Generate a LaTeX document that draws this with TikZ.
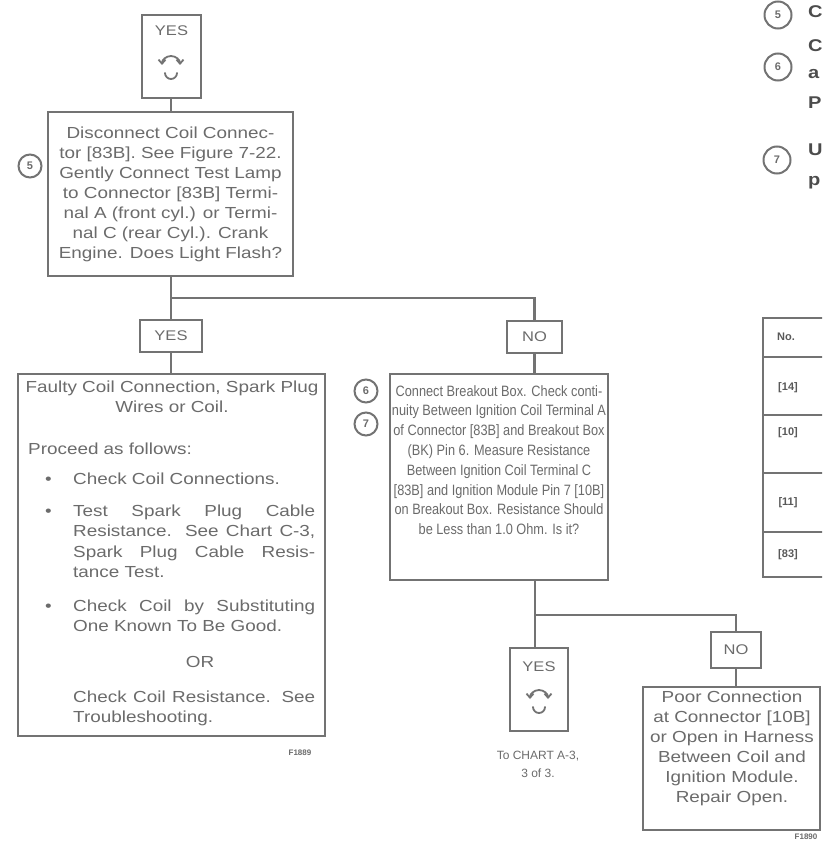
\documentclass[tikz,border=0pt]{standalone}
\usepackage{fontspec}
\setmainfont{Liberation Sans}
\newfontfamily\widesans{Liberation Sans}[FakeStretch=1.18]
\newfontfamily\narrowsans{Liberation Sans}[FakeStretch=0.85]
\usetikzlibrary{arrows.meta}
\definecolor{linegray}{gray}{0.45}
\definecolor{textgray}{gray}{0.42}
\tikzset{
  ln/.style={draw=linegray, line width=2.4pt},
  box/.style={draw=linegray, line width=2.8pt, fill=white, inner sep=0pt, rectangle},
  txt/.style={text=textgray, inner sep=0pt, font=\widesans\fontsize{16}{20}\selectfont},
  ntxt/.style={text=textgray, inner sep=0pt, font=\narrowsans\fontsize{15}{19.8}\selectfont},
  lbl/.style={text=textgray, font=\widesans\fontsize{14}{16}\selectfont},
  numcirc/.style={circle, draw=linegray, line width=2pt, minimum size=23pt, inner sep=0pt,
    text=textgray, font=\bfseries\fontsize{11}{12}\selectfont},
  bigcirc/.style={numcirc, minimum size=27pt},
  sidetxt/.style={text=black!70, inner sep=0pt, anchor=west, font=\widesans\bfseries\fontsize{17}{20}\selectfont},
  tabtxt/.style={text=black!65, inner sep=0pt, font=\bfseries\fontsize{11}{13}\selectfont},
  icon/.style={draw=linegray, line width=1.8pt, line cap=round},
  tips/.style={{Straight Barb[length=4pt,width=7pt]}-{Straight Barb[length=4pt,width=7pt]}},
  figno/.style={text=textgray, inner sep=0pt, font=\bfseries\fontsize{8}{9}\selectfont},
}
\begin{document}
\begin{tikzpicture}[x=1pt, y=-1pt]
\useasboundingbox (0,0) rectangle (822,843);
\clip (0,0) rectangle (822,843);

% ---- side notes, top right ----
\node[bigcirc] (s5) at (778,15) {5};
\node[sidetxt] (s5t) at (808,12) {C};
\node[bigcirc] (s6) at (778,67) {6};
\node[sidetxt] (s6a) at (808,46) {C};
\node[sidetxt] (s6b) at (808,74) {a};
\node[sidetxt] (s6c) at (808,103) {P};
\node[bigcirc] (s7) at (777,160) {7};
\node[sidetxt] (s7a) at (808,150) {U};
\node[sidetxt] (s7b) at (808,183) {p};

% ---- reference table, right edge ----
\draw[ln, line width=1.8pt] (763,318) rectangle (840,577);
\foreach \yy in {357,415,473,532} \draw[ln, line width=1.8pt] (763,\yy) -- (840,\yy);
\node[tabtxt] (tn) at (786,337) {No.};
\node[tabtxt] (t14) at (788,388) {[14]};
\node[tabtxt] (t10) at (788,433) {[10]};
\node[tabtxt] (t11) at (788,503) {[11]};
\node[tabtxt] (t83) at (788,555) {[83]};

% ---- boxes ----
\coordinate (j1) at (171,298);
\coordinate (j2) at (535,615);
\node[box, minimum width=59pt, minimum height=83pt] (yesT) at (171.5,56.5) {};
\node[box, minimum width=245pt, minimum height=164pt] (box1) at (170.5,194) {};
\node[box, minimum width=62pt, minimum height=32pt] (yesL) at (171,336) {};
\node[box, minimum width=55pt, minimum height=32pt] (noR) at (534.5,337) {};
\node[box, minimum width=307pt, minimum height=362pt] (boxL) at (171.5,555) {};
\node[box, minimum width=218pt, minimum height=206pt] (boxN) at (499,477) {};
\node[box, minimum width=58pt, minimum height=83pt] (yesB) at (539,689.5) {};
\node[box, minimum width=50pt, minimum height=36pt] (noB) at (736,650) {};
\node[box, minimum width=177pt, minimum height=143pt] (boxR) at (731.5,758.5) {};

% ---- connectors ----
\draw[ln] (yesT.south -| j1) -- (j1 |- box1.north);
\draw[ln] (j1 |- box1.south) -- (j1 |- yesL.north);
\draw[ln] (j1) -| (noR.north);
\draw[ln] (j1 |- yesL.south) -- (j1 |- boxL.north);
\draw[ln] (noR.south) -- (noR.south |- boxN.north);
\draw[ln] (j2 |- boxN.south) -- (j2 |- yesB.north);
\draw[ln] (j2) -| (noB.north);
\draw[ln] (noB.south) -- (noB.south |- boxR.north);

% ---- texts inside the boxes ----
\node[lbl] (yesTt) at (171.5,31) {YES};
\draw[icon, tips] (162,65) arc[start angle=180, end angle=360, radius=9];
\draw[icon] (165,73) arc[start angle=180, end angle=0, radius=6];

\node[txt, align=center] (b1t) at (box1)
  {Disconnect Coil Connec-\\ tor {[83B]}. See Figure 7-22.\\ Gently Connect Test Lamp\\
   to Connector {[83B]} Termi-\\ nal A (front cyl.) or Termi-\\ nal C (rear Cyl.). Crank\\
   Engine. Does Light Flash?};
\node[numcirc] (c5) at (30,166) {5};

\node[lbl] (yesLt) at (yesL) {YES};
\node[lbl] (noRt) at (noR) {NO};

\node[txt, anchor=north, align=center] (lt1) at (172,381)
  {Faulty Coil Connection, Spark Plug\\ Wires or Coil.};
\node[txt, anchor=base west] (lt2) at (28,454) {Proceed as follows:};
\node[txt, anchor=base west] (lb1) at (45,484) {\textbullet};
\node[txt, anchor=base west] (lt3) at (73,484) {Check Coil Connections.};
\node[txt, anchor=base west] (lb2) at (45,516) {\textbullet};
\node[txt, anchor=base west] (lt4) at (73,516) {\makebox[242pt][s]{Test Spark Plug Cable}};
\node[txt, anchor=base west] (lt5) at (73,536) {\makebox[242pt][s]{Resistance. See Chart C-3,}};
\node[txt, anchor=base west] (lt6) at (73,557) {\makebox[242pt][s]{Spark Plug Cable Resis-}};
\node[txt, anchor=base west] (lt7) at (73,577) {tance Test.};
\node[txt, anchor=base west] (lb3) at (45,611) {\textbullet};
\node[txt, anchor=base west] (lt8) at (73,611) {\makebox[242pt][s]{Check Coil by Substituting}};
\node[txt, anchor=base west] (lt9) at (73,631) {One Known To Be Good.};
\node[txt, anchor=base] (lt10) at (200,667) {OR};
\node[txt, anchor=base west] (lt11) at (73,702) {\makebox[242pt][s]{Check Coil Resistance. See}};
\node[txt, anchor=base west] (lt12) at (73,722) {Troubleshooting.};
\node[figno] (figL) at (300,753) {F1889};

\node[ntxt, anchor=north, align=center] (nt) at (499,385)
  {Connect Breakout Box. Check conti-\\ nuity Between Ignition Coil Terminal A\\
   of Connector {[83B]} and Breakout Box\\ (BK) Pin 6. Measure Resistance\\
   Between Ignition Coil Terminal C\\ {[83B]} and Ignition Module Pin 7 {[10B]}\\
   on Breakout Box. Resistance Should\\ be Less than 1.0 Ohm. Is it?};
\node[numcirc] (c6) at (366,391) {6};
\node[numcirc] (c7) at (366,424) {7};

\node[lbl] (yesBt) at (539,667) {YES};
\draw[icon, tips] (530,699) arc[start angle=180, end angle=360, radius=9];
\draw[icon] (533,707) arc[start angle=180, end angle=0, radius=6];
\node[text=textgray, align=center, anchor=north, inner sep=0pt,
  font=\fontsize{12}{18}\selectfont] (toA) at (538,751) {To CHART A-3,\\ 3 of 3.};

\node[lbl] (noBt) at (noB) {NO};
\node[txt, anchor=north, align=center] (rt) at (732,691)
  {Poor Connection\\ at Connector {[10B]}\\ or Open in Harness\\ Between Coil and\\
   Ignition Module.\\ Repair Open.};
\node[figno] (figR) at (806,837) {F1890};
\end{tikzpicture}
\end{document}
